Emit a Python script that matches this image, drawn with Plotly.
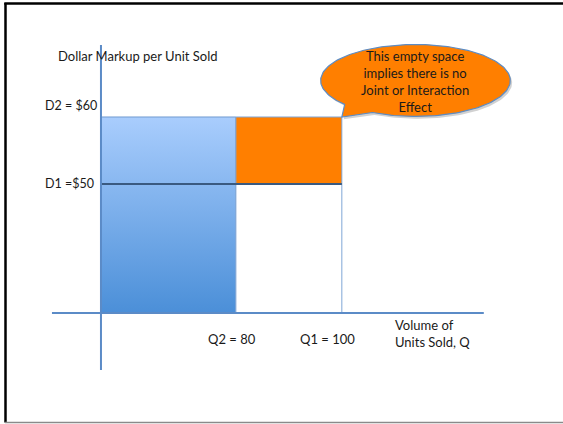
import numpy as np
import plotly.graph_objects as go

# Schematic values
quantities = [80, 100]          # Q2, Q1
markups = [50, 60]              # D1, D2
q_labels = ["Q2 = 80", "Q1 = 100"]
d_labels = ["D1 =$50", "D2 = $60"]
bubble_text = "This empty space<br>implies there is no<br>Joint or Interaction<br>Effect"

Q2, Q1 = quantities
D1, D2 = markups

# Axes cross away from zero (schematic, truncated axes)
X0 = 54.53
Y0 = 30.75
X_RANGE = [35.47, 141.75]
Y_RANGE = [14.18, 77.46]

FONT = "Lato"
TXT = "#1a1a1a"
AXIS_BLUE = "#5b8bc7"
EDGE_BLUE = "#7fa6d6"
ORANGE = "#ff7f00"

fig = go.Figure()

# Revenue block at (Q2, D2): gradient blue column
fig.add_trace(go.Scatter(
    x=[X0, Q2, Q2, X0, X0], y=[Y0, Y0, D2, D2, Y0],
    mode="lines", fill="toself",
    line=dict(color="#6f9bd0", width=1),
    fillgradient=dict(type="vertical", start=Y0, stop=D2,
                      colorscale=[[0, "#4b8fd8"], [1, "#a9cdfd"]]),
    hoverinfo="skip", showlegend=False))

# Quantity effect region (empty)
fig.add_trace(go.Scatter(
    x=[Q2, Q1, Q1, Q2, Q2], y=[Y0, Y0, D1, D1, Y0],
    mode="lines", fill="toself", fillcolor="white",
    line=dict(color=EDGE_BLUE, width=1),
    hoverinfo="skip", showlegend=False))

# Price effect region
fig.add_trace(go.Scatter(
    x=[Q2, Q1, Q1, Q2, Q2], y=[D1, D1, D2, D2, D1],
    mode="lines", fill="toself", fillcolor=ORANGE,
    line=dict(color=EDGE_BLUE, width=1),
    hoverinfo="skip", showlegend=False))

# D1 level line
fig.add_trace(go.Scatter(
    x=[X0, Q1], y=[D1, D1], mode="lines",
    line=dict(color="#3a5a80", width=2),
    hoverinfo="skip", showlegend=False))

# Axes
fig.add_trace(go.Scatter(
    x=[X0, X0], y=[22.24, 70.75], mode="lines",
    line=dict(color=AXIS_BLUE, width=2), hoverinfo="skip", showlegend=False))
fig.add_trace(go.Scatter(
    x=[45.28, 126.8], y=[Y0, Y0], mode="lines",
    line=dict(color=AXIS_BLUE, width=2), hoverinfo="skip", showlegend=False))

# Speech bubble pointing at (Q1, D2)
cx, cy, rx, ry = 113.9, 65.45, 17.9, 5.37
t = np.radians(np.linspace(243, 581.7, 200))
bx = list(cx + rx * np.cos(t)) + [Q1, cx + rx * np.cos(t[0])]
by = list(cy + ry * np.sin(t)) + [D2, cy + ry * np.sin(t[0])]
fig.add_trace(go.Scatter(
    x=[v + 0.35 for v in bx], y=[v - 0.35 for v in by],
    mode="lines", fill="toself", fillcolor="rgba(0,0,0,0.18)",
    line=dict(color="rgba(0,0,0,0)", width=0),
    hoverinfo="skip", showlegend=False))
fig.add_trace(go.Scatter(
    x=bx, y=by, mode="lines", fill="toself", fillcolor=ORANGE,
    line=dict(color="#5d8cc4", width=1.2),
    hoverinfo="skip", showlegend=False))

ann = []
ann.append(dict(x=cx, y=65.35, text=bubble_text, showarrow=False,
                font=dict(family=FONT, size=13, color=TXT),
                xanchor="center", yanchor="middle", align="center"))
ann.append(dict(x=61.4, y=69.1, text="Dollar Markup per Unit Sold", showarrow=False,
                font=dict(family=FONT, size=13, color=TXT),
                xanchor="center", yanchor="middle"))
for lab, yv, ys in zip(d_labels, markups, [0, 11]):
    ann.append(dict(x=X0 - 11.0, y=yv, text=lab, showarrow=False, yshift=ys,
                    font=dict(family=FONT, size=12.5, color=TXT),
                    xanchor="left", yanchor="middle"))
for lab, xv, xs in zip(q_labels, quantities, [-4, -14]):
    ann.append(dict(x=xv, y=26.87, text=lab, showarrow=False, xshift=xs,
                    font=dict(family=FONT, size=13, color=TXT),
                    xanchor="center", yanchor="middle"))
ann.append(dict(x=109.6, y=27.69, text="Volume of<br>Units Sold, Q", showarrow=False,
                font=dict(family=FONT, size=13, color=TXT),
                xanchor="left", yanchor="middle", align="left"))

W, H = 563, 424
shapes = [
    dict(type="line", xref="paper", yref="paper", x0=5.5 / W, x1=5.5 / W,
         y0=1.5 / H, y1=1 - 3 / H, line=dict(color="black", width=2.5)),
    dict(type="line", xref="paper", yref="paper", x0=4.3 / W, x1=1,
         y0=1 - 3.5 / H, y1=1 - 3.5 / H, line=dict(color="black", width=2.5)),
    dict(type="line", xref="paper", yref="paper", x0=5 / W, x1=1,
         y0=1.5 / H, y1=1.5 / H, line=dict(color="#8a8a8a", width=1.5)),
]

fig.update_layout(
    width=W, height=H, autosize=False,
    margin=dict(l=0, r=0, t=0, b=0),
    paper_bgcolor="white", plot_bgcolor="white",
    xaxis=dict(range=X_RANGE, visible=False, fixedrange=True),
    yaxis=dict(range=Y_RANGE, visible=False, fixedrange=True),
    annotations=ann, shapes=shapes, showlegend=False,
)

fig.write_html("out.html")
